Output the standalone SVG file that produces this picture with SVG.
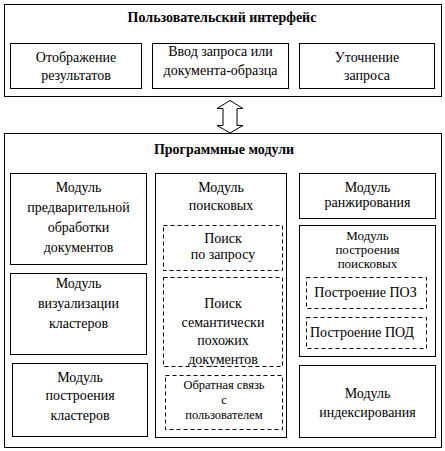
<svg xmlns="http://www.w3.org/2000/svg" width="445" height="451" viewBox="0 0 445 451">
<style>
rect{fill:#fff;stroke:#000;stroke-width:1}
.d{stroke-dasharray:4,3}
text{font-family:"Liberation Serif","Times New Roman",serif;font-size:14px;fill:#000;text-anchor:middle}
.t{font-weight:bold;font-size:14px}
.s{font-size:13px}
.f{font-size:12.5px}
</style>
<rect x="0" y="0" width="445" height="451" style="stroke:none"/>
<g id="ui">
<rect x="4.5" y="4.5" width="437" height="92"/>
<text class="t" x="222" y="22">Пользовательский интерфейс</text>
</g>
<g id="ui-display">
<rect x="10.5" y="43.5" width="131" height="45"/>
<text x="76" y="62">Отображение</text>
<text x="76" y="80">результатов</text>
</g>
<g id="ui-input">
<rect x="152.5" y="43.5" width="136" height="45"/>
<text x="220.5" y="56">Ввод запроса  или</text>
<text x="220.5" y="75">документа-образца</text>
</g>
<g id="ui-refine">
<rect x="299.5" y="43.5" width="135" height="45"/>
<text x="367" y="62">Уточнение</text>
<text x="367" y="80">запроса</text>
</g>
<g id="connectors">
<path d="M230,100.5 L243,108.5 L237,108.5 L237,125.5 L243,125.5 L230,133 L217,125.5 L223,125.5 L223,108.5 L217,108.5 Z" fill="#fff" stroke="#000" stroke-width="1"/>
</g>
<g id="modules">
<rect x="4.5" y="133.5" width="437" height="314"/>
<text class="t" x="224" y="154">Программные модули</text>
</g>
<g id="preproc">
<rect x="10.5" y="173.5" width="136" height="91"/>
<text x="78.5" y="192">Модуль</text>
<text x="78.5" y="212">предварительной</text>
<text x="78.5" y="232">обработки</text>
<text x="78.5" y="252">документов</text>
</g>
<g id="visual">
<rect x="10.5" y="273.5" width="136" height="81"/>
<text x="78.5" y="288">Модуль</text>
<text x="78.5" y="308">визуализации</text>
<text x="78.5" y="328">кластеров</text>
</g>
<g id="cluster">
<rect x="12.5" y="363.5" width="135" height="73"/>
<text x="80" y="382">Модуль</text>
<text x="80" y="400">построения</text>
<text x="80" y="420">кластеров</text>
</g>
<g id="search">
<rect x="155.5" y="173.5" width="131" height="264"/>
<text x="221" y="192">Модуль</text>
<text x="221" y="210">поисковых</text>
</g>
<g id="search-query">
<rect class="d" x="163.5" y="225.5" width="119" height="45"/>
<text x="223" y="243">Поиск</text>
<text x="223" y="259">по запросу</text>
</g>
<g id="search-similar">
<rect class="d" x="163.5" y="277.5" width="119" height="89"/>
<text x="223" y="308">Поиск</text>
<text x="223" y="327">семантически</text>
<text x="223" y="345">похожих</text>
<text x="223" y="364">документов</text>
</g>
<g id="feedback">
<rect class="d" x="165.5" y="375.5" width="117" height="54"/>
<text class="f" x="224" y="389">Обратная связь</text>
<text class="f" x="224" y="403.5">с</text>
<text class="f" x="224" y="419">пользователем</text>
</g>
<g id="ranking">
<rect x="299.5" y="173.5" width="136" height="45"/>
<text x="367.5" y="192">Модуль</text>
<text x="367.5" y="207">ранжирования</text>
</g>
<g id="patterns">
<rect x="299.5" y="225.5" width="136" height="131"/>
<text class="s" x="367.5" y="240">Модуль</text>
<text class="s" x="367.5" y="254">построения</text>
<text class="s" x="367.5" y="268">поисковых</text>
</g>
<g id="poz">
<rect class="d" x="306.5" y="277.5" width="120" height="31"/>
<text x="365.5" y="297">Построение ПОЗ</text>
</g>
<g id="pod">
<rect class="d" x="306.5" y="317.5" width="120" height="31"/>
<text x="362" y="337">Построение ПОД</text>
</g>
<g id="index">
<rect x="299.5" y="365.5" width="136" height="72"/>
<text x="367.5" y="398">Модуль</text>
<text x="367.5" y="417">индексирования</text>
</g>
</svg>
